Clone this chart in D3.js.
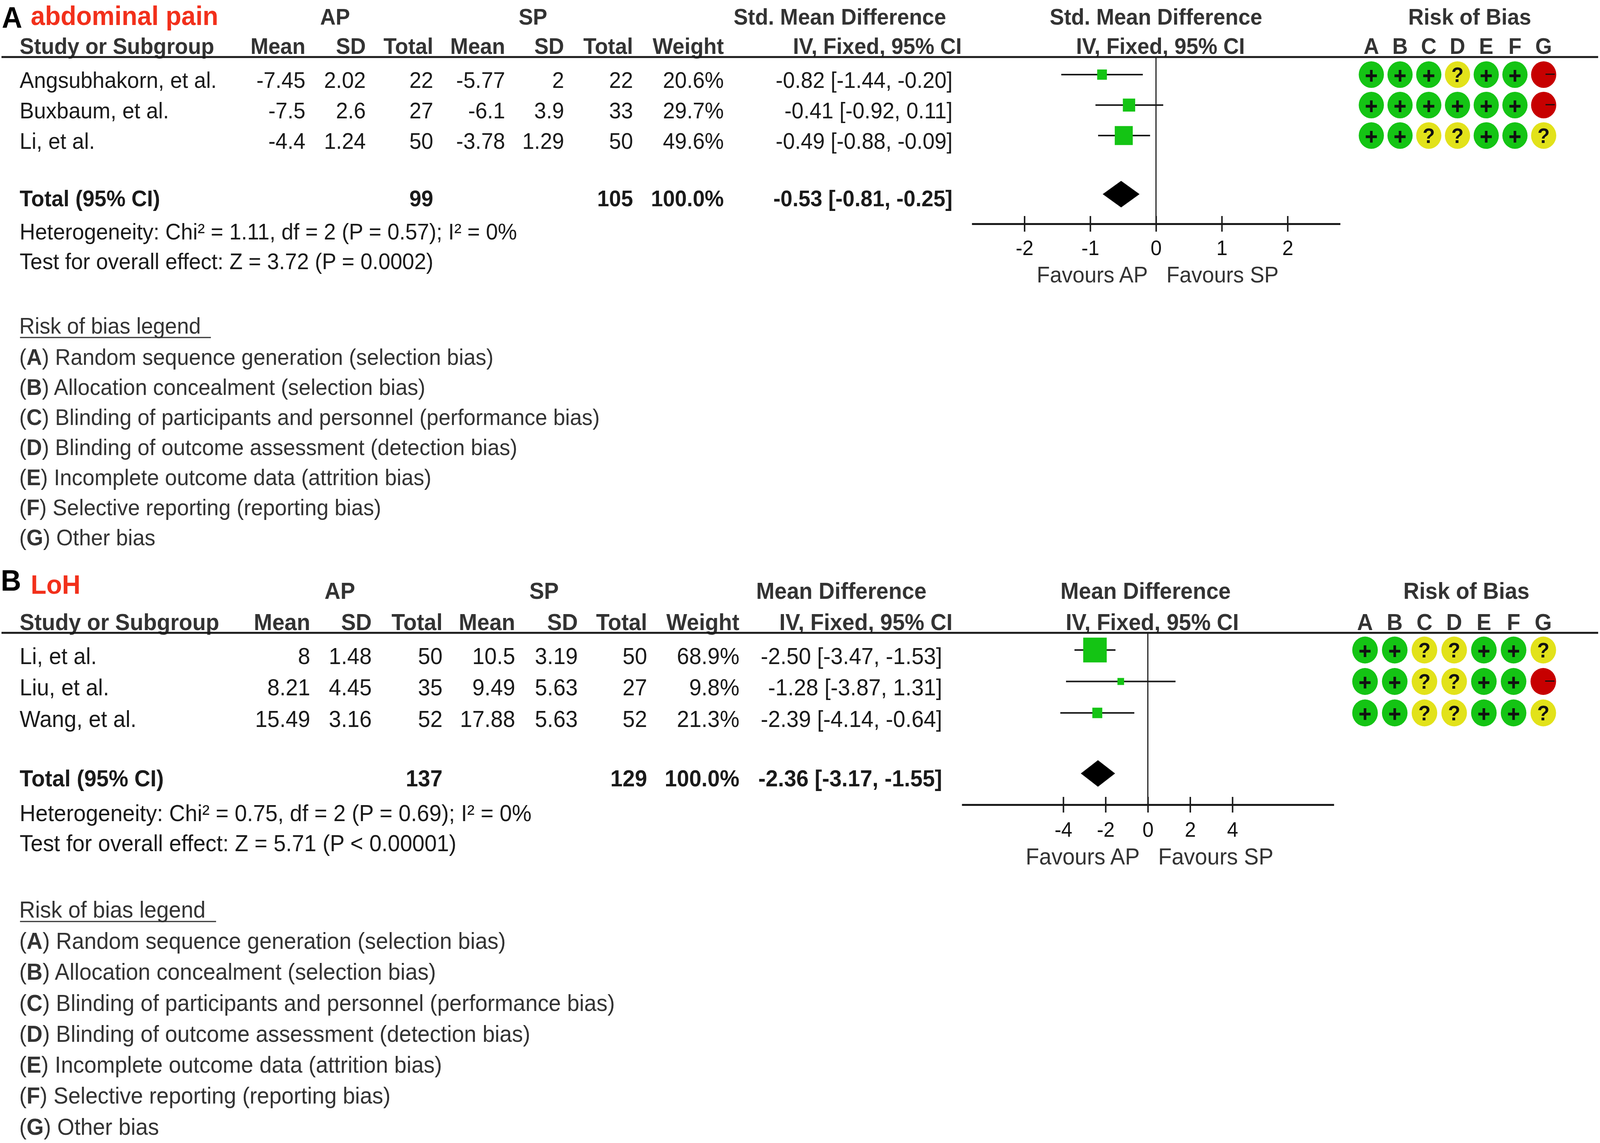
<!DOCTYPE html>
<html>
<head>
<meta charset="utf-8">
<script src="https://cdn.jsdelivr.net/npm/d3@7"></script>
<style>
  html, body { margin: 0; padding: 0; background: #fff; overflow: hidden; }
  svg { display: block; width: 100vw; height: 100vh; font-family: "Liberation Sans", Arial, sans-serif; }
</style>
</head>
<body>
<div id="chart"></div>
<script>
// ---- panel A: abdominal pain ----
const studiesA = ['Angsubhakorn, et al.', 'Buxbaum, et al.', 'Li, et al.'];
const apMeanA = [-7.45, -7.5, -4.4];
const apSdA = [2.02, 2.6, 1.24];
const apNA = [22, 27, 50];
const spMeanA = [-5.77, -6.1, -3.78];
const spSdA = [2, 3.9, 1.29];
const spNA = [22, 33, 50];
const weightA = [20.6, 29.7, 49.6];
const estA = [-0.82, -0.41, -0.49];
const lowA = [-1.44, -0.92, -0.88];
const highA = [-0.20, 0.11, -0.09];
const totalNA = [99, 105];
const totalCiA = [-0.53, -0.81, -0.25];
const riskA = [
  ['+', '+', '+', '?', '+', '+', '-'],
  ['+', '+', '+', '+', '+', '+', '-'],
  ['+', '+', '?', '?', '+', '+', '?']
];
const ticksA = [-2, -1, 0, 1, 2];
const hetA = 'Heterogeneity: Chi² = 1.11, df = 2 (P = 0.57); I² = 0%';
const testA = 'Test for overall effect: Z = 3.72 (P = 0.0002)';

// ---- panel B: LoH ----
const studiesB = ['Li, et al.', 'Liu, et al.', 'Wang, et al.'];
const apMeanB = [8, 8.21, 15.49];
const apSdB = [1.48, 4.45, 3.16];
const apNB = [50, 35, 52];
const spMeanB = [10.5, 9.49, 17.88];
const spSdB = [3.19, 5.63, 5.63];
const spNB = [50, 27, 52];
const weightB = [68.9, 9.8, 21.3];
const estB = [-2.50, -1.28, -2.39];
const lowB = [-3.47, -3.87, -4.14];
const highB = [-1.53, 1.31, -0.64];
const totalNB = [137, 129];
const totalCiB = [-2.36, -3.17, -1.55];
const riskB = [
  ['+', '+', '?', '?', '+', '+', '?'],
  ['+', '+', '?', '?', '+', '+', '-'],
  ['+', '+', '?', '?', '+', '+', '?']
];
const ticksB = [-4, -2, 0, 2, 4];
const hetB = 'Heterogeneity: Chi² = 0.75, df = 2 (P = 0.69); I² = 0%';
const testB = 'Test for overall effect: Z = 5.71 (P < 0.00001)';

// shared labels
const colHeads = ['Mean', 'SD', 'Total', 'Mean', 'SD', 'Total', 'Weight'];
const biasDomains = ['A', 'B', 'C', 'D', 'E', 'F', 'G'];
const biasLegend = [
  'Random sequence generation (selection bias)',
  'Allocation concealment (selection bias)',
  'Blinding of participants and personnel (performance bias)',
  'Blinding of outcome assessment (detection bias)',
  'Incomplete outcome data (attrition bias)',
  'Selective reporting (reporting bias)',
  'Other bias'
];

const W = 4317, H = 2926;
const RED = '#f2301b', GREEN = '#14c414', YELLOW = '#e2e21a', DARKRED = '#c70000';

// stretch the 4317x2926 layout over the whole viewport
const svg = d3.select('#chart').append('svg')
  .attr('viewBox', `0 0 ${W} ${H}`)
  .attr('preserveAspectRatio', 'none');
svg.append('rect').attr('width', W).attr('height', H).attr('fill', '#fff');

// square side follows study weight
const boxSize = d3.scaleLinear().domain([0, 100]).range([10.4, 87.4]);
const fmt2 = v => v.toFixed(2);

function drawPanel(d, L) {
  const g = svg.append('g');
  const fs = L.font;
  const txt = (x, y, s, opt = {}) => g.append('text')
    .attr('x', x).attr('y', y)
    .attr('text-anchor', opt.anchor || 'start')
    .attr('font-size', opt.size || fs)
    .attr('font-weight', opt.bold ? 'bold' : 'normal')
    .attr('fill', opt.color || '#1a1a1a')
    .text(s);

  // panel letter and outcome name
  txt(L.letterX, L.letterBase, L.letter, { size: 76, bold: true, color: '#000' });
  txt(83, L.titleBase, L.title, { size: 69, bold: true, color: RED });

  // group headers
  txt(L.apCenter, L.groupBase, 'AP', { anchor: 'middle', bold: true, color: '#333' });
  txt(L.spCenter, L.groupBase, 'SP', { anchor: 'middle', bold: true, color: '#333' });
  txt(L.effCenter, L.groupBase, L.effect, { anchor: 'middle', bold: true, color: '#333' });

  const x = d3.scaleLinear().domain(L.domain).range(L.range);
  const riskX = d3.scalePoint().domain(biasDomains).range(L.riskRange);
  const rowY = d3.scaleLinear().domain([0, 1]).range([L.rowY0, L.rowY0 + L.rowStep]);

  txt(x(0) + L.forestHeadDx, L.groupBase, L.effect, { anchor: 'middle', bold: true, color: '#333' });
  txt(d3.mean(L.riskRange) + 33, L.groupBase, 'Risk of Bias', { anchor: 'middle', bold: true, color: '#333' });

  // column headers
  txt(53, L.colBase, 'Study or Subgroup', { bold: true, color: '#333' });
  colHeads.forEach((h, i) => txt(L.cols[i], L.colBase, h, { anchor: 'end', bold: true, color: '#333' }));
  txt(L.ciHeadX, L.colBase, 'IV, Fixed, 95% CI', { anchor: 'end', bold: true, color: '#333' });
  txt(x(0) + 12, L.colBase, 'IV, Fixed, 95% CI', { anchor: 'middle', bold: true, color: '#333' });
  biasDomains.forEach(k => txt(riskX(k), L.colBase, k, { anchor: 'middle', bold: true, color: '#333' }));

  g.append('line').attr('x1', 4).attr('x2', 4312)
    .attr('y1', L.lineY).attr('y2', L.lineY)
    .attr('stroke', '#1a1a1a').attr('stroke-width', 5);

  // study rows
  d.studies.forEach((s, i) => {
    const b = rowY(i) + L.baseDy;
    txt(53, b, s);
    const vals = [d.apMean[i], d.apSd[i], d.apN[i], d.spMean[i], d.spSd[i], d.spN[i]];
    vals.forEach((v, j) => txt(L.cols[j], b, String(v), { anchor: 'end' }));
    txt(L.cols[6], b, d.weight[i].toFixed(1) + '%', { anchor: 'end' });
    txt(L.ciX, b, `${fmt2(d.est[i])} [${fmt2(d.low[i])}, ${fmt2(d.high[i])}]`, { anchor: 'end' });
  });

  // totals
  const tb = L.totalY + L.totalDy;
  txt(53, tb, 'Total (95% CI)', { bold: true });
  txt(L.cols[2], tb, String(d.totalN[0]), { anchor: 'end', bold: true });
  txt(L.cols[5], tb, String(d.totalN[1]), { anchor: 'end', bold: true });
  txt(L.cols[6], tb, '100.0%', { anchor: 'end', bold: true });
  txt(L.ciX, tb, `${fmt2(d.totalCi[0])} [${fmt2(d.totalCi[1])}, ${fmt2(d.totalCi[2])}]`, { anchor: 'end', bold: true });
  txt(53, L.hetBase, d.het);
  txt(53, L.testBase, d.test);

  // forest plot
  g.append('line').attr('x1', x(0)).attr('x2', x(0))
    .attr('y1', L.lineY).attr('y2', L.axisY)
    .attr('stroke', '#1a1a1a').attr('stroke-width', 3);

  const axis = g.append('g')
    .attr('transform', `translate(0,${L.axisY})`)
    .call(d3.axisBottom(x).tickValues(d.ticks).tickSize(20).tickSizeOuter(0).tickFormat(v => String(v)));
  axis.select('.domain').attr('stroke', '#1a1a1a').attr('stroke-width', 5);
  axis.selectAll('.tick line').attr('y1', -20).attr('y2', 20)
    .attr('stroke', '#1a1a1a').attr('stroke-width', 4);
  axis.selectAll('.tick text')
    .attr('y', L.tickDy).attr('dy', 0)
    .attr('font-size', 54).attr('font-family', '"Liberation Sans", Arial, sans-serif')
    .attr('fill', '#111');

  txt(x(0) - 22, L.axisY + L.favDy, 'Favours AP', { anchor: 'end', color: '#333' });
  txt(x(0) + 28, L.axisY + L.favDy, 'Favours SP', { color: '#333' });

  d.studies.forEach((s, i) => {
    const y = rowY(i);
    g.append('line').attr('x1', x(d.low[i])).attr('x2', x(d.high[i]))
      .attr('y1', y).attr('y2', y)
      .attr('stroke', '#1a1a1a').attr('stroke-width', 4);
    const sz = boxSize(d.weight[i]);
    g.append('rect')
      .attr('x', x(d.est[i]) - sz / 2).attr('y', y - sz / 2)
      .attr('width', sz).attr('height', sz)
      .attr('fill', GREEN);
  });

  const [te, tl, th] = d.totalCi;
  const dy = L.totalY;
  g.append('path')
    .attr('d', `M${x(tl)},${dy}L${x(te)},${dy - 34}L${x(th)},${dy}L${x(te)},${dy + 34}Z`)
    .attr('fill', '#000');

  // risk of bias dots
  d.risk.forEach((row, i) => {
    const cy = rowY(i);
    row.forEach((r, j) => {
      const cx = riskX(biasDomains[j]);
      const fill = r === '+' ? GREEN : r === '?' ? YELLOW : DARKRED;
      g.append('circle').attr('cx', cx).attr('cy', cy).attr('r', L.dotR).attr('fill', fill);
      if (r === '+') {
        g.append('path')
          .attr('d', `M${cx - 15},${cy + 3}H${cx + 15}M${cx},${cy - 12}V${cy + 18}`)
          .attr('stroke', '#111').attr('stroke-width', 7);
      } else if (r === '?') {
        g.append('text').attr('x', cx).attr('y', cy + 19)
          .attr('text-anchor', 'middle').attr('font-size', 54).attr('font-weight', 'bold')
          .attr('fill', '#111').text('?');
      } else {
        g.append('line').attr('x1', cx + 5).attr('x2', cx + 30)
          .attr('y1', cy - 1).attr('y2', cy - 1)
          .attr('stroke', '#111').attr('stroke-width', 3);
      }
    });
  });

  // risk of bias legend
  txt(52, L.legTitleBase, 'Risk of bias legend', { color: '#333' });
  g.append('line').attr('x1', 54).attr('x2', L.legUnderline)
    .attr('y1', L.legTitleBase + 10).attr('y2', L.legTitleBase + 10)
    .attr('stroke', '#333').attr('stroke-width', 3);
  biasLegend.forEach((s, i) => {
    const t = g.append('text')
      .attr('x', 52).attr('y', L.legBase0 + i * L.legStep)
      .attr('font-size', fs).attr('fill', '#333');
    t.append('tspan').text('(');
    t.append('tspan').attr('font-weight', 'bold').text(biasDomains[i]);
    t.append('tspan').text(') ' + s);
  });
}

drawPanel({
  studies: studiesA, apMean: apMeanA, apSd: apSdA, apN: apNA,
  spMean: spMeanA, spSd: spSdA, spN: spNA, weight: weightA,
  est: estA, low: lowA, high: highA, totalN: totalNA, totalCi: totalCiA,
  risk: riskA, ticks: ticksA, het: hetA, test: testA
}, {
  letter: 'A', title: 'abdominal pain', effect: 'Std. Mean Difference', font: 58,
  letterX: 5, letterBase: 71, titleBase: 64, groupBase: 63, colBase: 138, lineY: 146,
  apCenter: 904, spCenter: 1438, effCenter: 2266, forestHeadDx: 0,
  cols: [824, 987, 1169, 1363, 1522, 1708, 1953], ciX: 2570, ciHeadX: 2595,
  rowY0: 191, rowStep: 78, baseDy: 34, totalY: 497, totalDy: 31,
  hetBase: 613, testBase: 689,
  domain: [-2.8, 2.8], range: [2622, 3616], axisY: 573, tickDy: 80, favDy: 150,
  riskRange: [3700, 4165], dotR: 34,
  legTitleBase: 854, legUnderline: 569, legBase0: 934, legStep: 77
});

drawPanel({
  studies: studiesB, apMean: apMeanB, apSd: apSdB, apN: apNB,
  spMean: spMeanB, spSd: spSdB, spN: spNB, weight: weightB,
  est: estB, low: lowB, high: highB, totalN: totalNB, totalCi: totalCiB,
  risk: riskB, ticks: ticksB, het: hetB, test: testB
}, {
  letter: 'B', title: 'LoH', effect: 'Mean Difference', font: 59.5,
  letterX: 2, letterBase: 1512, titleBase: 1520, groupBase: 1533, colBase: 1613, lineY: 1620,
  apCenter: 917, spCenter: 1468, effCenter: 2270, forestHeadDx: -6,
  cols: [837, 1003, 1194, 1390, 1559, 1746, 1995], ciX: 2542, ciHeadX: 2570,
  rowY0: 1664, rowStep: 80.5, baseDy: 36, totalY: 1980, totalDy: 33,
  hetBase: 2102, testBase: 2179,
  domain: [-8.8, 8.8], range: [2595, 3599], axisY: 2060, tickDy: 82, favDy: 153,
  riskRange: [3683, 4164], dotR: 34.5,
  legTitleBase: 2349, legUnderline: 583, legBase0: 2429, legStep: 79.3
});
</script>
</body>
</html>
